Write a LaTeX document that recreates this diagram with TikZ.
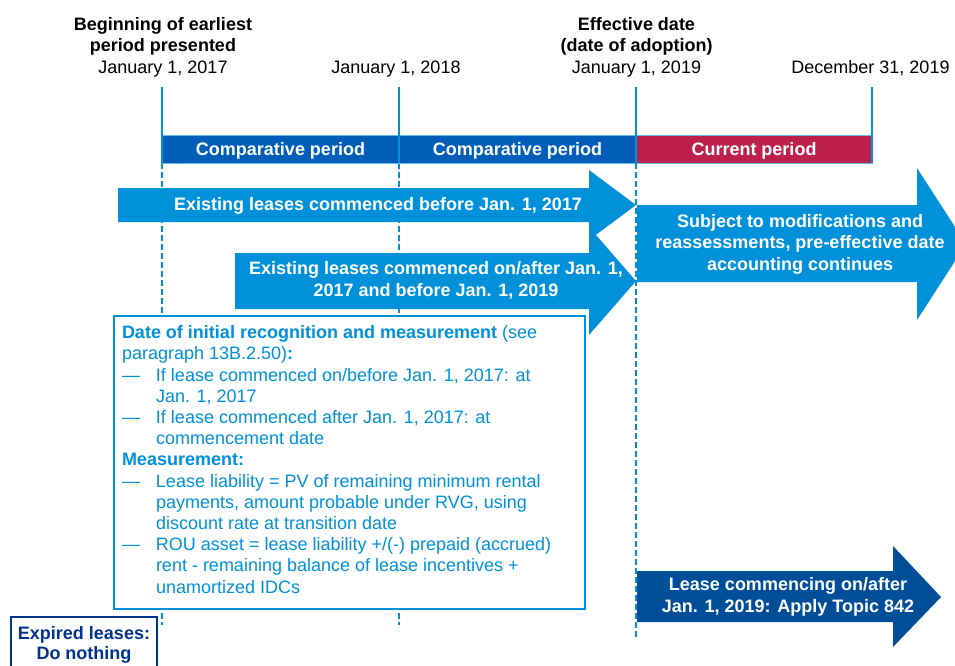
\documentclass[tikz,border=0pt]{standalone}
\usepackage{fontspec}
\setmainfont{Liberation Sans}
\definecolor{lblue}{RGB}{0,145,218}
\definecolor{cblue}{RGB}{0,94,184}
\definecolor{crim}{RGB}{188,32,75}
\definecolor{dblue}{RGB}{0,78,152}
\definecolor{navy}{RGB}{0,51,141}
\newcommand\kdash{\makebox[34pt][l]{—}}
\newcommand\kind{\hspace*{34pt}}
\begin{document}
\begin{tikzpicture}[x=1pt,y=-1pt,
  txt/.style={font=\fontsize{18pt}{21.2pt}\selectfont, inner sep=0pt, outer sep=0pt, align=center, anchor=base},
  wtxt/.style={font=\fontsize{18pt}{21.2pt}\selectfont\bfseries, text=white, inner sep=0pt, outer sep=0pt, align=center, anchor=base},
  boxtxt/.style={font=\fontsize{18pt}{21.2pt}\selectfont, text=lblue, inner sep=0pt, outer sep=0pt, align=left, anchor=base west},
  dotline/.style={draw=lblue, line width=2.2pt, dash pattern=on 5.5pt off 3.5pt},
  solidline/.style={draw=lblue, line width=2.4pt},
]
\useasboundingbox (0,0) rectangle (955,665);
\clip (0,0) rectangle (955,665);
\fill[white] (0,0) rectangle (955,665);

% coordinates of the time marks
\coordinate (a0) at (162,87);  \coordinate (a1) at (162,163);
\coordinate (b0) at (399,87);  \coordinate (b1) at (399,163);
\coordinate (c0) at (636,87);  \coordinate (c1) at (636,163);
\coordinate (d0) at (872,87);  \coordinate (d1) at (872,163);
\coordinate (ae) at (162,625); \coordinate (be) at (399,625); \coordinate (ce) at (636,637);

% dotted lines (behind)
\draw[dotline] (a1) -- (ae);
\draw[dotline] (b1) -- (be);

% period bars
\fill[cblue] (162,135) rectangle (399,163);
\fill[cblue] (399,135) rectangle (636,163);
\fill[crim] (636,135) rectangle (872,163);
\draw[lblue!60, line width=0.8pt] (162,135) rectangle (872,163);
\node[wtxt] (cp1) at (280.5,155) {Comparative period};
\node[wtxt] (cp2) at (517.5,155) {Comparative period};
\node[wtxt] (cur) at (754,155) {Current period};

% solid marks
\draw[solidline] (a0) -- (a1);
\draw[solidline] (b0) -- (b1);
\draw[solidline] (c0) -- (c1);
\draw[solidline] (d0) -- (d1);

% header labels (base anchor = last line)
\node[txt] (h1) at (163,73) {\textbf{Beginning of earliest}\\\textbf{period presented}\\January 1, 2017};
\node[txt] (h2) at (396,73) {January 1, 2018};
\node[txt] (h3) at (636.5,73) {\textbf{Effective date}\\\textbf{(date of adoption)}\\January 1, 2019};
\node[txt] (h4) at (870.5,73) {December 31, 2019};

% arrows
\fill[lblue] (118,188) -- (589,188) -- (589,170) -- (636,205) -- (589,240) -- (589,222) -- (118,222) -- cycle;
\fill[lblue] (235,253) -- (589,253) -- (589,227) -- (636,281) -- (589,335) -- (589,309) -- (235,309) -- cycle;
\fill[lblue] (636,205) -- (917,205) -- (917,168) -- (966,244) -- (917,320) -- (917,282) -- (636,282) -- cycle;
\fill[dblue] (636,571) -- (893,571) -- (893,546) -- (941,597) -- (893,647) -- (893,622) -- (636,622) -- cycle;

\node[wtxt] (ar1) at (378,210) {Existing leases commenced before Jan. 1, 2017};
\node[wtxt] (ar2) at (436,296) {Existing leases commenced on/after Jan. 1,\\2017 and before Jan. 1, 2019};
\node[wtxt] (ar3) at (800,270) {Subject to modifications and\\reassessments, pre-effective date\\accounting continues};
\node[wtxt] (ar4) at (788,612) {Lease commencing on/after\\Jan. 1, 2019: Apply Topic 842};

% dotted line at effective date, over arrows
\draw[white, line width=1.4pt] (c1) -- (ce);
\draw[dotline] (c1) -- (ce);

% main text box
\filldraw[fill=white, draw=lblue, line width=1.3pt] (114,316) rectangle (585,609);
\node[boxtxt] (bt) at (122,593) {\textbf{Date of initial recognition and measurement} (see\\
paragraph 13B.2.50)\textbf{:}\\
\kdash If lease commenced on/before Jan. 1, 2017: at\\
\kind Jan. 1, 2017\\
\kdash If lease commenced after Jan. 1, 2017: at\\
\kind commencement date\\
\textbf{Measurement:}\\
\kdash Lease liability = PV of remaining minimum rental\\
\kind payments, amount probable under RVG, using\\
\kind discount rate at transition date\\
\kdash ROU asset = lease liability +/(-) prepaid (accrued)\\
\kind rent - remaining balance of lease incentives +\\
\kind unamortized IDCs};

% expired leases box
\filldraw[fill=white, draw=navy, line width=1.3pt] (11,617) rectangle (157,680);
\node[txt, text=navy, font=\fontsize{18pt}{20pt}\selectfont\bfseries] (ex) at (84,659) {Expired leases:\\Do nothing};
\end{tikzpicture}
\end{document}
